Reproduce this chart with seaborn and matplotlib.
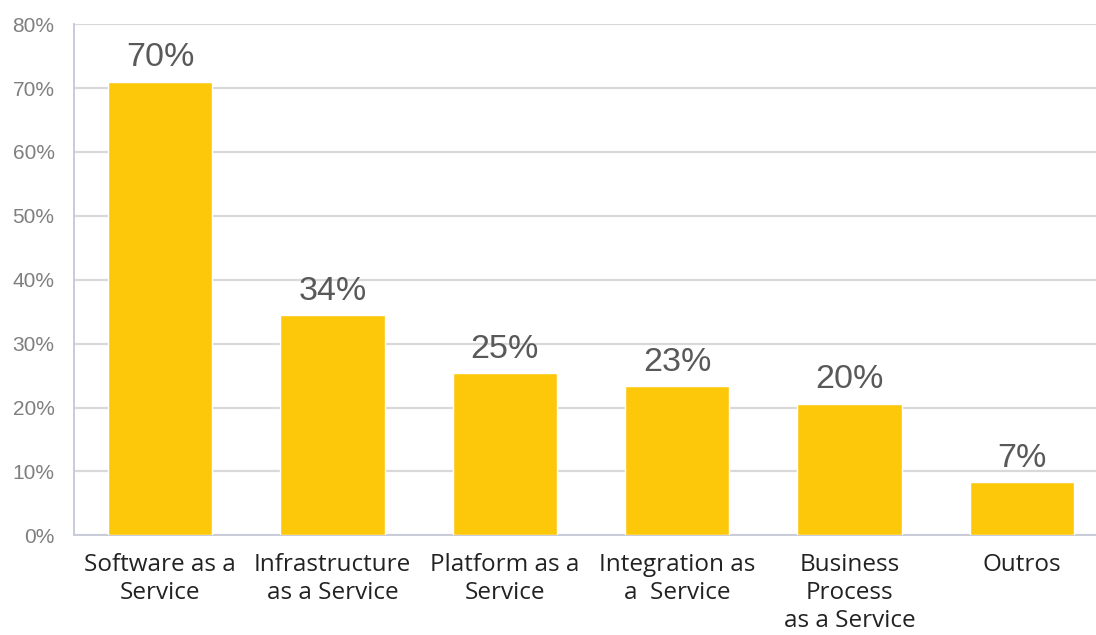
import matplotlib
matplotlib.use("Agg")
import matplotlib.pyplot as plt
import seaborn as sns
import pandas as pd
from matplotlib.ticker import FuncFormatter

categories = ["Software as a\nService", "Infrastructure\nas a Service", "Platform as a\nService",
              "Integration as\na  Service", "Business\nProcess\nas a Service", "Outros"]
values = [71.0, 34.4, 25.4, 23.3, 20.6, 8.3]
labels = ["70%", "34%", "25%", "23%", "20%", "7%"]
yticks = [0, 10, 20, 30, 40, 50, 60, 70, 80]

sns.set_theme(style="white")
plt.rcParams['font.family'] = ['Liberation Sans', 'DejaVu Sans']

df = pd.DataFrame({"cat": categories, "val": values})

fig = plt.figure(figsize=(10.96, 6.35), dpi=100)
ax = fig.add_axes([0.0675, 0.157, 0.9436, 0.805])

sns.barplot(data=df, x="cat", y="val", color="#FDC80A", saturation=1, width=0.605, ax=ax, zorder=3)

ax.set_ylim(0, 80)
ax.set_xlim(-0.5, len(categories) - 0.5)
ax.set_yticks(yticks)
ax.yaxis.set_major_formatter(FuncFormatter(lambda v, p: f"{int(v)}%"))
ax.grid(axis="y", color="#d9d9d9", linewidth=1.6, zorder=0)
ax.set_axisbelow(True)
ax.set_xlabel("")
ax.set_ylabel("")

for s in ["top", "right"]:
    ax.spines[s].set_visible(False)
for s in ["left", "bottom"]:
    ax.spines[s].set_color("#c9cbd8")
    ax.spines[s].set_linewidth(1.4)

ax.tick_params(axis="y", labelsize=15, labelcolor="#7f7f7f", length=5, color="#d9d9d9", width=1.4, pad=9)
for t in ax.get_yticklabels():
    t.set_family(['Liberation Sans', 'DejaVu Sans'])

ax.set_xticks(range(len(categories)))
ax.set_xticklabels(categories)
ax.tick_params(axis="x", length=0, pad=13, labelsize=17.5, labelcolor="#222222")
for t in ax.get_xticklabels():
    t.set_family(['Open Sans', 'DejaVu Sans'])
    t.set_linespacing(1.2)
    t.set_verticalalignment("top")

# minor ticks at category boundaries
ax.set_xticks([i + 0.5 for i in range(len(categories) - 1)], minor=True)
ax.tick_params(axis="x", which="minor", length=4, color="#c9cbd8", width=1.2, direction="out")

for i, (v, lab) in enumerate(zip(values, labels)):
    ax.annotate(lab, (i, v), xytext=(0, 6), textcoords="offset points",
                ha="center", va="bottom", fontsize=24.5, color="#595959",
                family=['Liberation Sans', 'DejaVu Sans'])

fig.savefig("out.png", dpi=100)
